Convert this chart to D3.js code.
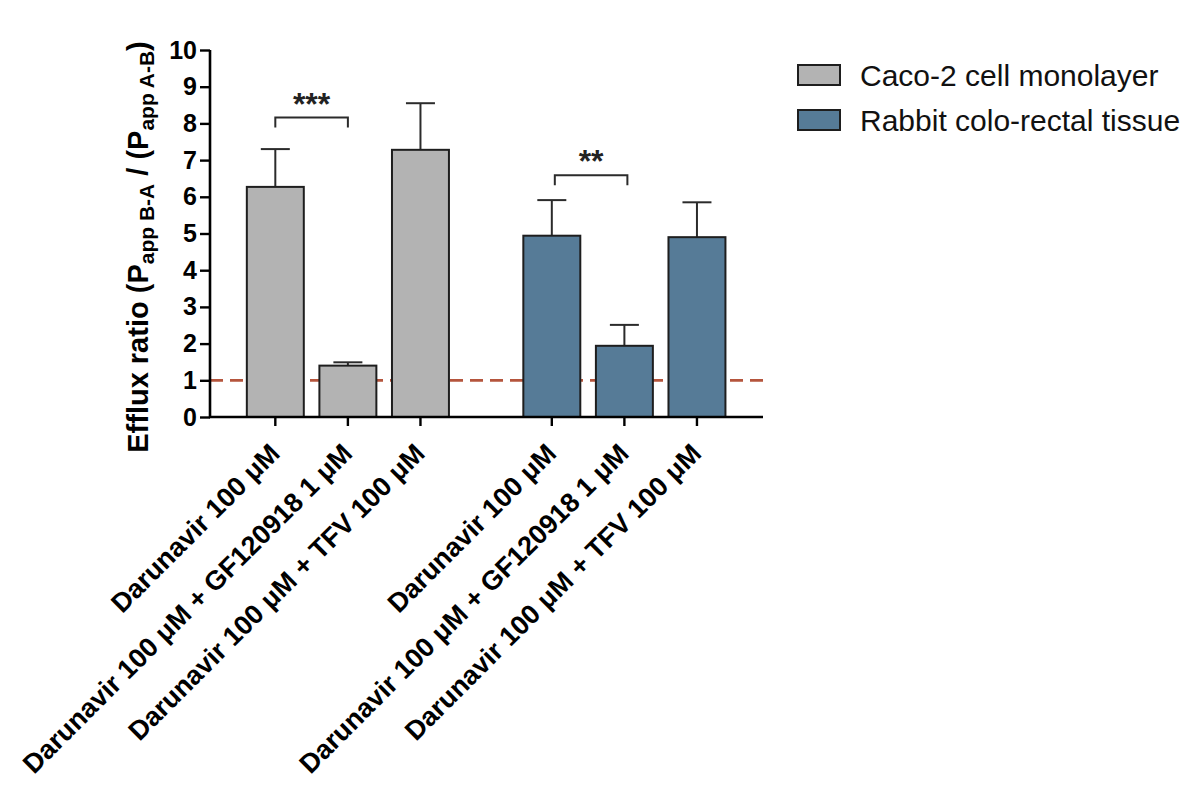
<!DOCTYPE html>
<html>
<head>
<meta charset="utf-8">
<script src="https://cdn.jsdelivr.net/npm/d3@7"></script>
<style>
  html, body { margin: 0; padding: 0; background: #fff; }
  svg { display: block; font-family: "Liberation Sans", Arial, Helvetica, sans-serif; }
</style>
</head>
<body>
<svg id="chart" width="1190" height="785"></svg>
<script>
// Treatments shown for each model
const categories = [
  "Darunavir 100 \u03BCM",
  "Darunavir 100 \u03BCM + GF120918 1 \u03BCM",
  "Darunavir 100 \u03BCM + TFV 100 \u03BCM"
];
const seriesNames = ["Caco-2 cell monolayer", "Rabbit colo-rectal tissue"];

// Mean efflux ratios and error (upper bar only)
const caco2Mean = [6.27, 1.40, 7.28];
const caco2Err  = [1.03, 0.09, 1.27];
const rabbitMean = [4.94, 1.94, 4.90];
const rabbitErr  = [0.97, 0.57, 0.95];

const yTicks = [0, 1, 2, 3, 4, 5, 6, 7, 8, 9, 10];
const referenceLine = 1;

// Significance brackets: [series, from category, to category, height, label]
const brackets = [
  { series: 0, from: 0, to: 1, value: 8.16, label: "***" },
  { series: 1, from: 0, to: 1, value: 6.59, label: "**" }
];

const colors = ["#b3b3b3", "#567b97"];
const groupStart = [0, 3.81];

const svg = d3.select("#chart");

const x = d3.scaleLinear().domain([-0.9, 6.72]).range([210, 763]);
const y = d3.scaleLinear().domain([0, 10]).range([417, 50]);
const barW = x(0.785) - x(0);

const rows = [];
[[caco2Mean, caco2Err], [rabbitMean, rabbitErr]].forEach(([m, e], s) => {
  m.forEach((v, i) => rows.push({ s, i, value: v, err: e[i], pos: groupStart[s] + i }));
});

// Reference line at ratio = 1 (behind bars)
svg.append("line")
  .attr("x1", x.range()[0]).attr("x2", x.range()[1])
  .attr("y1", y(referenceLine)).attr("y2", y(referenceLine))
  .attr("stroke", "#b5553d").attr("stroke-width", 2.8)
  .attr("stroke-dasharray", "13,7");

// Error bars (upper)
const eb = svg.append("g").attr("stroke", "#2b2b2b").attr("stroke-width", 2);
eb.selectAll("line.v").data(rows).join("line")
  .attr("x1", d => x(d.pos)).attr("x2", d => x(d.pos))
  .attr("y1", d => y(d.value)).attr("y2", d => y(d.value + d.err));
eb.selectAll("line.c").data(rows).join("line")
  .attr("x1", d => x(d.pos) - 14.5).attr("x2", d => x(d.pos) + 14.5)
  .attr("y1", d => y(d.value + d.err)).attr("y2", d => y(d.value + d.err));

// Bars
svg.append("g").selectAll("rect").data(rows).join("rect")
  .attr("x", d => x(d.pos) - barW / 2)
  .attr("width", barW)
  .attr("y", d => y(d.value))
  .attr("height", d => y(0) - y(d.value))
  .attr("fill", d => colors[d.s])
  .attr("stroke", "#1e1e1e").attr("stroke-width", 2);

// Y axis
const yAxis = svg.append("g").attr("transform", `translate(${x.range()[0]},0)`)
  .call(d3.axisLeft(y).tickValues(yTicks).tickSize(10).tickPadding(3));
yAxis.select(".domain").attr("stroke", "#000").attr("stroke-width", 2.6)
  .attr("d", `M0,${y(10)}V${y(0)}`);
yAxis.selectAll(".tick line").attr("stroke", "#000").attr("stroke-width", 2.4);
yAxis.selectAll(".tick text")
  .attr("font-size", 25).attr("font-weight", "bold").attr("fill", "#000")
  .attr("font-family", "'Liberation Sans', Arial, sans-serif");

// X axis with ticks under each bar
const xAxis = svg.append("g").attr("transform", `translate(0,${y(0)})`);
xAxis.append("line").attr("x1", x.range()[0] - 1).attr("x2", x.range()[1])
  .attr("stroke", "#000").attr("stroke-width", 2.6);
xAxis.selectAll("line.t").data(rows).join("line")
  .attr("class", "t")
  .attr("x1", d => x(d.pos)).attr("x2", d => x(d.pos))
  .attr("y1", 0).attr("y2", 9)
  .attr("stroke", "#000").attr("stroke-width", 2.4);

// Rotated category labels
svg.append("g").selectAll("text").data(rows).join("text")
  .attr("transform", d => `translate(${x(d.pos) + 6},${y(0) + 38}) rotate(-45)`)
  .attr("text-anchor", "end")
  .attr("font-size", 27).attr("font-weight", "bold").attr("fill", "#000")
  .text(d => categories[d.i]);

// Y axis title with subscripts
const title = svg.append("text")
  .attr("transform", "translate(148,247) rotate(-90)")
  .attr("text-anchor", "middle")
  .attr("font-size", 29).attr("font-weight", "bold").attr("fill", "#000");
title.append("tspan").text("Efflux ratio (P");
title.append("tspan").attr("font-size", 21).attr("dy", 6).text("app B-A");
title.append("tspan").attr("dy", -6).text(" / (P");
title.append("tspan").attr("font-size", 21).attr("dy", 6).text("app A-B");
title.append("tspan").attr("dy", -6).text(")");

// Significance brackets
const br = svg.append("g");
brackets.forEach(b => {
  const x1 = x(groupStart[b.series] + b.from) + (b.series ? 3 : 0);
  const x2 = x(groupStart[b.series] + b.to) + (b.series ? 3 : 0);
  const yy = y(b.value);
  br.append("path")
    .attr("d", `M${x1},${yy + 10}V${yy}H${x2}V${yy + 10}`)
    .attr("fill", "none").attr("stroke", "#2b2b2b").attr("stroke-width", 2);
  br.append("text")
    .attr("x", (x1 + x2) / 2).attr("y", yy - 3)
    .attr("text-anchor", "middle")
    .attr("font-size", 32).attr("font-weight", "bold").attr("fill", "#222")
    .text(b.label);
});

// Legend
const legend = svg.append("g").attr("transform", "translate(798,65)");
seriesNames.forEach((name, k) => {
  const g = legend.append("g").attr("transform", `translate(0,${k * 45})`);
  g.append("rect").attr("width", 42).attr("height", 20)
    .attr("fill", colors[k]).attr("stroke", "#1e1e1e").attr("stroke-width", 2);
  g.append("text").attr("x", 62).attr("y", 21)
    .attr("font-size", 30).attr("fill", "#111").text(name);
});
</script>
</body>
</html>
